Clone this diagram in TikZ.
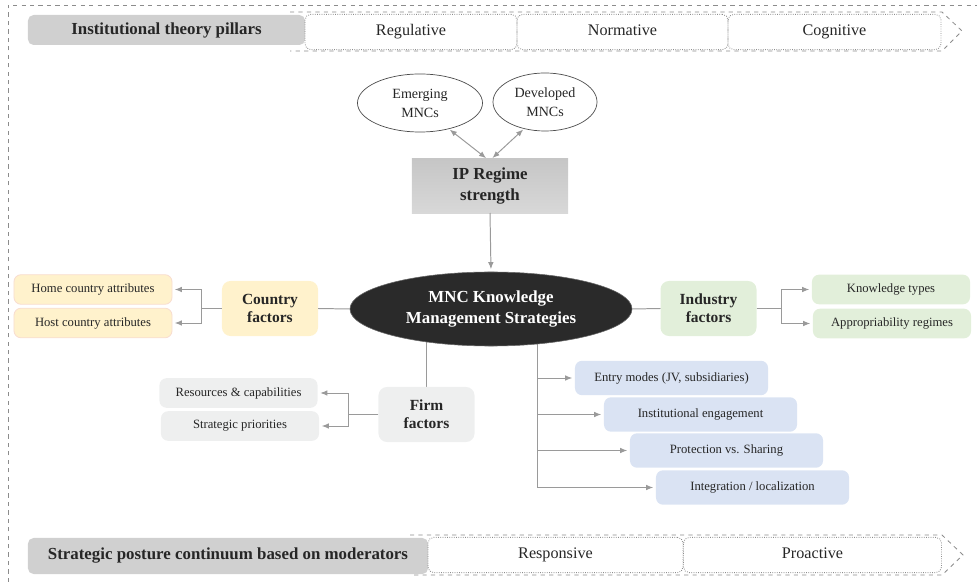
\documentclass[tikz,border=0pt]{standalone}
\usepackage{fontspec}
\setmainfont{Liberation Serif}
\newcommand*{\bandfont}{\fontsize{12}{14}\selectfont\bfseries}
\newcommand*{\pillarfont}{\fontsize{11.5}{14}\selectfont}
\newcommand*{\headfont}{\fontsize{12}{15}\selectfont\bfseries}
\newcommand*{\factorfont}{\fontsize{11}{13}\selectfont\bfseries}
\newcommand*{\mncfont}{\fontsize{10}{13.5}\selectfont}
\newcommand*{\leaffont}{\fontsize{9}{11}\selectfont}
\definecolor{bandgrey}{HTML}{D0D0D0}
\definecolor{linegrey}{HTML}{9A9A9A}
\definecolor{framegrey}{HTML}{8C8C8C}
\definecolor{textgrey}{HTML}{262626}
\definecolor{countryfill}{HTML}{FFF2CC}
\definecolor{countryline}{HTML}{F8DDD0}
\definecolor{industryfill}{HTML}{E2EFDA}
\definecolor{firmfill}{HTML}{EEEFEF}
\definecolor{modefill}{HTML}{DAE3F3}
\definecolor{iptop}{HTML}{C6C6C6}
\definecolor{ipbottom}{HTML}{D8D8D8}
\definecolor{kmsfill}{HTML}{2A2A2A}
\usetikzlibrary{arrows.meta}
\usetikzlibrary{positioning}
\usetikzlibrary{shapes.geometric}
\usetikzlibrary{backgrounds}
\tikzstyle{base}=[inner sep=0pt, outer sep=0pt, text=textgrey, align=center]
\tikzstyle{bandtitle}=[base, fill=bandgrey, rounded corners=4pt, font=\bandfont]
\tikzstyle{pillar}=[base, draw=framegrey, densely dotted, line width=0.6pt, rounded corners=4pt, minimum height=0.88cm, text height=1.55ex, text depth=0.45ex, font=\pillarfont]
\tikzstyle{band}=[draw=framegrey, dashed, line width=0.6pt]
\tikzstyle{mnc}=[base, ellipse, draw=black!70, line width=0.5pt, minimum height=1.45cm, font=\mncfont]
\tikzstyle{factor}=[base, rounded corners=6pt, minimum width=2.4cm, minimum height=1.375cm, font=\factorfont]
\tikzstyle{leaf}=[base, rounded corners=5pt, minimum width=3.95cm, minimum height=0.74cm, font=\leaffont]
\tikzstyle{mode}=[base, fill=modefill, rounded corners=5pt, minimum width=4.825cm, minimum height=0.86cm, font=\leaffont]
\tikzstyle{line}=[draw=linegrey, line width=0.7pt]
\tikzstyle{conn}=[line, -{Latex[length=5pt,width=4pt]}, shorten >=2pt]
\tikzstyle{twoway}=[line, {Latex[length=5pt,width=4pt]}-{Latex[length=5pt,width=4pt]}, shorten <=1pt, shorten >=1pt]

\begin{document}
\begin{tikzpicture}[x=0.025cm, y=-0.025cm]
    \useasboundingbox (0,0) rectangle (977,582);
    \draw [band] (8,582) -- (8,5) -- (977,5);

    \draw [band] (290,12) -- (942,12) -- (962,31) -- (942,51) -- (290,51);
    \node [bandtitle, minimum width=6.925cm, minimum height=0.75cm] (pillars) at (166.5,30) {Institutional theory pillars};
    \node [pillar, minimum width=5.3cm] (regulative) at (411,32) {Regulative};
    \node [pillar, minimum width=5.275cm] (normative) at (622.5,32) {Normative};
    \node [pillar, minimum width=5.325cm] (cognitive) at (834.5,32) {Cognitive};

    \draw [band] (410,535) -- (942,535) -- (963,555) -- (942,575) -- (410,575);
    \node [bandtitle, minimum width=10cm, minimum height=0.9cm] (posture) at (228,556) {Strategic posture continuum based on moderators};
    \node [pillar, minimum width=6.375cm] (responsive) at (555.5,555) {Responsive};
    \node [pillar, minimum width=6.45cm] (proactive) at (812.5,555) {Proactive};

    \node [mnc, minimum width=3.125cm] (emerging) at (420,103) {Emerging\\MNCs};
    \node [mnc, minimum width=2.6cm] (developed) at (545,102) {Developed\\MNCs};
    \node [base, top color=iptop, bottom color=ipbottom, minimum width=3.9cm, minimum height=1.35cm, font=\headfont] (ipregime) at (490,186) {IP Regime\\strength};
    \node [base, ellipse, fill=kmsfill, draw=black!60, minimum width=7.05cm, minimum height=1.85cm, text=white, font=\headfont] (kms) at (491,309) {MNC Knowledge\\Management Strategies};

    \node [factor, fill=countryfill] (country) at (270,308.5) {Country\\factors};
    \node [leaf, fill=countryfill, draw=countryline, line width=0.6pt] (home) at (93,289.5) {Home country attributes};
    \node [leaf, fill=countryfill, draw=countryline, line width=0.6pt] (host) at (93,323) {Host country attributes};

    \node [factor, fill=industryfill] (industry) at (708.5,308.5) {Industry\\factors};
    \node [leaf, fill=industryfill] (knowtypes) at (891,289.5) {Knowledge types};
    \node [leaf, fill=industryfill] (approp) at (892,323.5) {Appropriability regimes};

    \node [factor, fill=firmfill] (firm) at (426.5,414.5) {Firm\\factors};
    \node [leaf, fill=firmfill] (resources) at (238.5,393) {Resources \& capabilities};
    \node [leaf, fill=firmfill] (priorities) at (240,426) {Strategic priorities};

    \node [mode] (entry) at (671.5,378) {Entry modes (JV, subsidiaries)};
    \node [mode] (engage) at (700.5,414.5) {Institutional engagement};
    \node [mode] (protect) at (726.5,450.5) {Protection vs. Sharing};
    \node [mode] (integrate) at (752.5,487.5) {Integration / localization};

    \draw [twoway] (emerging.-42) -- ([xshift=-2pt]ipregime.north);
    \draw [twoway] (developed.-128) -- ([xshift=1pt]ipregime.north);
    \draw [conn] (ipregime.south) -- (kms.north);

    \draw [line] (kms.west) -- (country.east);
    \draw [conn] (country.west) -- ++(-20,0) |- (home.east);
    \draw [conn] (country.west) -- ++(-20,0) |- (host.east);

    \draw [line] (kms.east) -- (industry.west);
    \draw [conn] (industry.east) -- ++(25,0) |- (knowtypes.west);
    \draw [conn] (industry.east) -- ++(25,0) |- (approp.west);

    \draw [conn] (firm.west) -- ++(-30,0) |- (resources.east);
    \draw [conn] (firm.west) -- ++(-30,0) |- (priorities.east);

    \begin{pgfonlayer}{background}
        \coordinate (branch) at (537,309);
        \draw [line] (firm.north) -- (firm.north |- kms.center);
        \draw [conn] (branch) |- (integrate.west);
        \draw [conn] (branch |- entry.west) -- (entry.west);
        \draw [conn] (branch |- engage.west) -- (engage.west);
        \draw [conn] (branch |- protect.west) -- (protect.west);
    \end{pgfonlayer}
\end{tikzpicture}
\end{document}
